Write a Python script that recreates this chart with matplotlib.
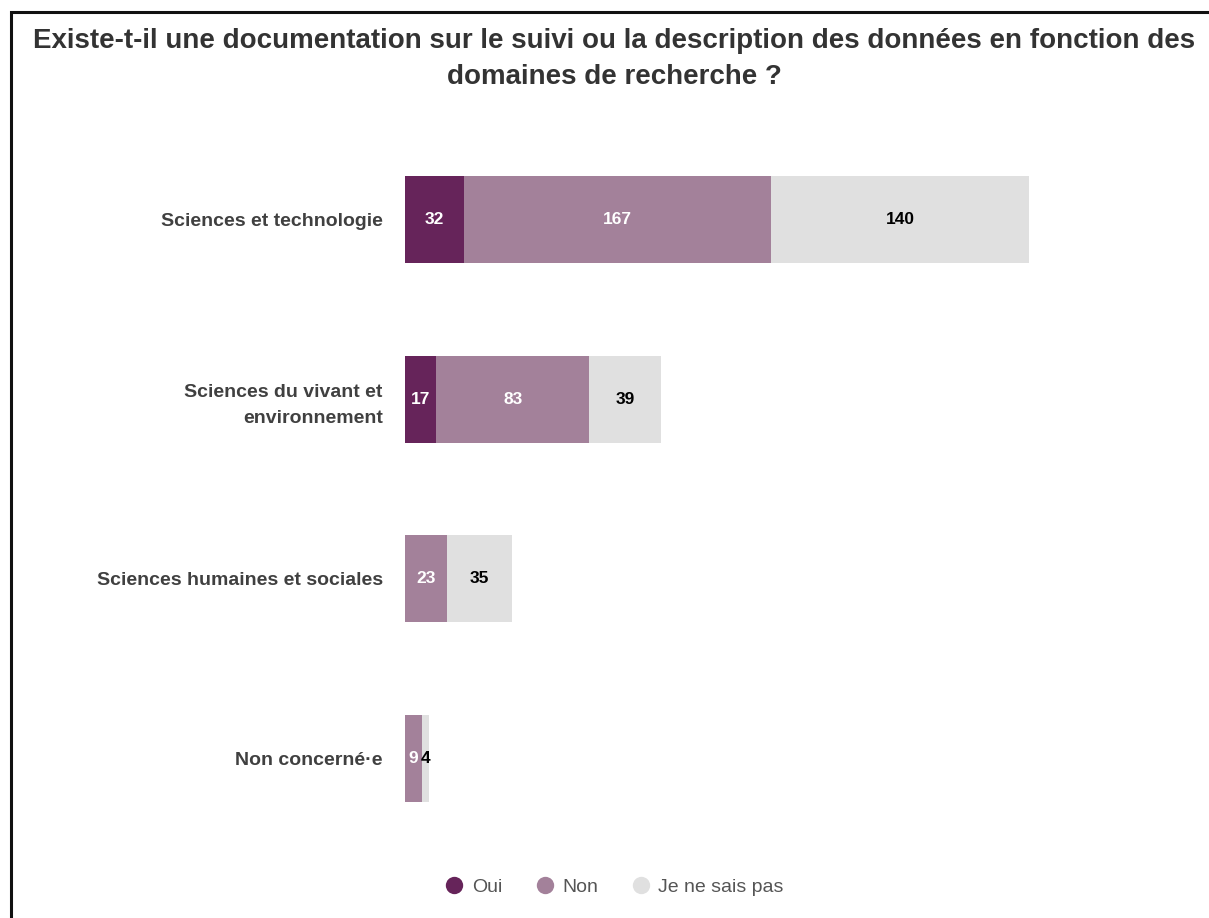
import matplotlib.pyplot as plt
from matplotlib.patches import Rectangle
from matplotlib.lines import Line2D

plt.rcParams['font.family'] = ['Liberation Sans', 'DejaVu Sans']

domaines = ["Sciences et technologie", "Sciences du vivant et\nenvironnement",
            "Sciences humaines et sociales", "Non concerné·e"]
oui = [32, 17, 0, 0]
non = [167, 83, 23, 9]
nsp = [140, 39, 35, 4]
series = ["Oui", "Non", "Je ne sais pas"]
couleurs = ["#66245a", "#a3819a", "#e0e0e0"]
couleurs_texte = ["white", "white", "black"]

fig = plt.figure(figsize=(12.09, 9.18), dpi=100)
# cadre (seuls le haut et la gauche sont visibles)
fig.patches.append(Rectangle((11 / 1209, -0.2), 1.3, 1.2 - 12 / 918,
                             transform=fig.transFigure, fill=False,
                             edgecolor="#111111", linewidth=2.2))

ax = fig.add_axes([405 / 1209, 70 / 918, 745.2 / 1209, 718 / 918])

y = list(range(len(domaines)))
gauche = [0] * len(domaines)
for vals, col, tcol in zip([oui, non, nsp], couleurs, couleurs_texte):
    ax.barh(y, vals, left=gauche, height=0.485, color=col, edgecolor="none")
    for i, v in enumerate(vals):
        if v > 0:
            ax.text(gauche[i] + v / 2, i, str(v), ha="center", va="center",
                    color=tcol, fontsize=12.5, fontweight="bold")
    gauche = [g + v for g, v in zip(gauche, vals)]

ax.set_xlim(0, 405)
ax.set_ylim(3.5, -0.5)
ax.set_yticks(y)
ax.set_yticklabels(domaines, fontsize=14, fontweight="bold", color="#404040",
                   linespacing=1.7)
ax.tick_params(axis="y", length=0, pad=16)
ax.set_xticks([])
for s in ax.spines.values():
    s.set_visible(False)

fig.text(0.508, 1 - 59 / 918, "Existe-t-il une documentation sur le suivi ou la description des données en fonction des\ndomaines de recherche ?",
         ha="center", va="center", fontsize=20, fontweight="bold",
         color="#333333", linespacing=1.5)

poignees = [Line2D([], [], marker="o", linestyle="none", markersize=12.5,
                   markerfacecolor=c, markeredgecolor="none") for c in couleurs]
fig.legend(poignees, series, loc="center", bbox_to_anchor=(0.508, 1 - 887 / 918),
           ncol=3, frameon=False, fontsize=14, handlelength=1.0,
           handletextpad=0.4, columnspacing=1.7, labelcolor="#555555")

fig.savefig("out.png", dpi=100)
